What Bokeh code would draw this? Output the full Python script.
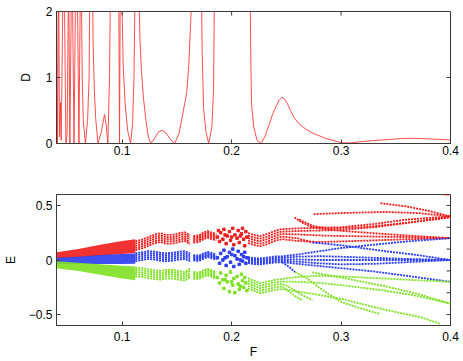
import math
from bokeh.plotting import figure
from bokeh.models import FixedTicker, Range1d
from bokeh.layouts import column
from bokeh.embed import file_html
from bokeh.resources import INLINE

# ---------------- top panel: D(F) ----------------
F_top = [0.0400, 0.0409, 0.0420, 0.0427, 0.0436, 0.0443, 0.0461, 0.0470, 0.0486, 0.0497,
         0.0511, 0.0522, 0.0538, 0.0544, 0.0560, 0.0576, 0.0589, 0.0605, 0.0619, 0.0626,
         0.0635, 0.0645, 0.0664, 0.0684, 0.0698, 0.0705, 0.0718, 0.0729, 0.0734, 0.0746,
         0.0758, 0.0779, 0.0809, 0.0839, 0.0854, 0.0869, 0.0885, 0.0894, 0.0932, 0.0968,
         0.0976, 0.0983, 0.0991, 0.1000, 0.1009, 0.1027, 0.1050, 0.1077, 0.1095, 0.1108,
         0.1120, 0.1137, 0.1154, 0.1162, 0.1176, 0.1194, 0.1217, 0.1239, 0.1260, 0.1293,
         0.1329, 0.1365, 0.1401, 0.1438, 0.1480, 0.1519, 0.1546, 0.1573, 0.1591, 0.1609,
         0.1630, 0.1641, 0.1679, 0.1722, 0.1731, 0.1744, 0.1765, 0.1790, 0.1819, 0.1835,
         0.1845, 0.2006, 0.2168, 0.2176, 0.2182, 0.2202, 0.2232, 0.2271, 0.2308, 0.2346,
         0.2376, 0.2406, 0.2435, 0.2460, 0.2484, 0.2511, 0.2538, 0.2572, 0.2620, 0.2677,
         0.2737, 0.2797, 0.2854, 0.2917, 0.3008, 0.3098, 0.3188, 0.3305, 0.3429, 0.3549,
         0.3639, 0.3729, 0.3865, 0.4000]
D_top = [2.6, 0.0, 2.6, 0.1, 0.62, 0.05, 2.6, 2.6, 0.0, 0.15,
         2.6, 0.0, 2.6, 2.6, 0.0, 2.6, 2.6, 0.0, 2.6, 2.6,
         1.0, 0.35, 0.0, 0.35, 1.0, 2.6, 3.0, 2.6, 1.55, 0.8,
         0.38, 0.0, 0.17, 0.44, 0.28, 0.0, 1.05, 2.6, 3.0, 2.6,
         0.0, 2.6, 3.0, 2.0, 1.2, 0.6, 0.2, 0.0, 0.3, 1.0,
         2.6, 3.0, 2.3, 1.6, 1.1, 0.7, 0.35, 0.1, 0.0, 0.07,
         0.17, 0.20, 0.16, 0.07, 0.0, 0.15, 0.38, 0.62, 0.79, 1.2,
         2.0, 2.8, 3.0, 2.6, 1.4, 0.53, 0.18, 0.0, 0.24, 0.8,
         2.6, 3.0, 2.6, 1.2, 0.6, 0.25, 0.05, 0.0, 0.12, 0.30,
         0.45, 0.56, 0.66, 0.70, 0.67, 0.60, 0.50, 0.39, 0.29, 0.22,
         0.16, 0.12, 0.08, 0.05, 0.01, 0.01, 0.03, 0.045, 0.06, 0.075,
         0.08, 0.075, 0.065, 0.055]

# ---------------- bottom panel: E(F) ----------------
band_F = [0.040, 0.060, 0.080, 0.100, 0.112]
red_lo = [0.012, 0.025, 0.040, 0.055, 0.065]
red_hi = [0.070, 0.100, 0.140, 0.175, 0.190]
blue_lo = [-0.035, -0.037, -0.037, -0.037, -0.035]
blue_hi = [0.020, 0.030, 0.045, 0.055, 0.060]
green_lo = [-0.075, -0.100, -0.135, -0.170, -0.185]
green_hi = [-0.012, -0.025, -0.040, -0.052, -0.060]

FA = [0.112, 0.118, 0.124, 0.130, 0.135, 0.140, 0.146, 0.152, 0.157, 0.162]
red_A = [
    [0.170, 0.185, 0.210, 0.235, 0.245, 0.230, 0.230, 0.245, 0.255, 0.225],
    [0.150, 0.165, 0.190, 0.215, 0.225, 0.210, 0.210, 0.225, 0.235, 0.205],
    [0.130, 0.145, 0.170, 0.195, 0.205, 0.190, 0.190, 0.205, 0.215, 0.185],
    [0.110, 0.125, 0.150, 0.175, 0.185, 0.170, 0.170, 0.185, 0.195, 0.165],
    [0.090, 0.105, 0.130, 0.155, 0.165, 0.150, 0.150, 0.165, 0.175, 0.145],
]
blue_A = [
    [0.061, 0.071, 0.081, 0.076, 0.066, 0.061, 0.066, 0.076, 0.081, 0.061],
    [0.043, 0.053, 0.063, 0.058, 0.048, 0.043, 0.048, 0.058, 0.063, 0.043],
    [0.025, 0.035, 0.045, 0.040, 0.030, 0.025, 0.030, 0.040, 0.045, 0.025],
    [0.007, 0.017, 0.027, 0.022, 0.012, 0.007, 0.012, 0.022, 0.027, 0.007],
    [-0.011, -0.001, 0.009, 0.004, -0.006, -0.011, -0.006, 0.004, 0.009, -0.011],
]
green_A = [
    [-0.070, -0.075, -0.085, -0.095, -0.100, -0.090, -0.090, -0.100, -0.110, -0.080],
    [-0.090, -0.095, -0.105, -0.115, -0.120, -0.110, -0.110, -0.120, -0.130, -0.100],
    [-0.110, -0.115, -0.125, -0.135, -0.140, -0.130, -0.130, -0.140, -0.150, -0.120],
    [-0.130, -0.135, -0.145, -0.155, -0.160, -0.150, -0.150, -0.160, -0.170, -0.140],
    [-0.150, -0.155, -0.165, -0.175, -0.180, -0.170, -0.170, -0.180, -0.190, -0.160],
]
FA2 = [0.165, 0.170, 0.174, 0.178, 0.182, 0.186]
red_A2 = [
    [0.220, 0.225, 0.250, 0.265, 0.250, 0.240],
    [0.205, 0.210, 0.235, 0.250, 0.235, 0.225],
    [0.190, 0.195, 0.220, 0.235, 0.220, 0.210],
    [0.175, 0.180, 0.205, 0.220, 0.205, 0.195],
    [0.160, 0.165, 0.190, 0.205, 0.190, 0.180],
]
blue_A2 = [
    [0.044, 0.039, 0.059, 0.074, 0.064, 0.049],
    [0.032, 0.027, 0.047, 0.062, 0.052, 0.037],
    [0.020, 0.015, 0.035, 0.050, 0.040, 0.025],
    [0.008, 0.003, 0.023, 0.038, 0.028, 0.013],
    [-0.004, -0.009, 0.011, 0.026, 0.016, 0.001],
]
green_A2 = [
    [-0.110, -0.115, -0.095, -0.080, -0.095, -0.110],
    [-0.125, -0.130, -0.110, -0.095, -0.110, -0.125],
    [-0.140, -0.145, -0.125, -0.110, -0.125, -0.140],
    [-0.155, -0.160, -0.140, -0.125, -0.140, -0.155],
    [-0.170, -0.175, -0.155, -0.140, -0.155, -0.170],
]

red_sF = [0.187, 0.189, 0.190, 0.192, 0.193, 0.195, 0.196, 0.198, 0.199, 0.201, 0.202, 0.203, 0.205,
          0.206, 0.207, 0.209, 0.210, 0.211, 0.212, 0.213, 0.214, 0.194, 0.200, 0.208, 0.188]
red_sE = [0.21, 0.17, 0.25, 0.19, 0.28, 0.15, 0.22, 0.26, 0.18, 0.29, 0.14, 0.23, 0.20,
          0.27, 0.16, 0.24, 0.29, 0.19, 0.13, 0.26, 0.21, 0.23, 0.21, 0.22, 0.27]
blue_sF = [0.187, 0.189, 0.190, 0.192, 0.193, 0.195, 0.196, 0.198, 0.199, 0.201, 0.202, 0.203,
           0.205, 0.206, 0.207, 0.209, 0.210, 0.211, 0.212, 0.213, 0.214, 0.194, 0.200, 0.208]
blue_sE = [0.02, -0.03, 0.06, 0.00, 0.09, -0.05, 0.03, 0.07, -0.02, 0.10, -0.06, 0.04,
           0.01, 0.08, -0.04, 0.05, -0.01, 0.03, 0.07, -0.03, 0.02, 0.02, 0.05, 0.00]
green_sF = [0.187, 0.189, 0.190, 0.192, 0.193, 0.195, 0.196, 0.198, 0.199, 0.201, 0.202, 0.203,
            0.205, 0.206, 0.207, 0.209, 0.210, 0.211, 0.212, 0.213, 0.214, 0.194, 0.200, 0.208]
green_sE = [-0.16, -0.21, -0.12, -0.18, -0.26, -0.14, -0.20, -0.29, -0.11, -0.23, -0.17, -0.30,
            -0.15, -0.22, -0.27, -0.13, -0.19, -0.25, -0.16, -0.21, -0.28, -0.18, -0.20, -0.24]

FB = [0.215, 0.220, 0.226, 0.232, 0.240, 0.246]
red_B = [
    (FB + [0.26, 0.28, 0.30, 0.33, 0.36, 0.40],
     [0.246, 0.231, 0.218, 0.236, 0.268, 0.283, 0.290, 0.295, 0.300, 0.330, 0.370, 0.400]),
    (FB + [0.26, 0.28, 0.30, 0.33, 0.36, 0.40],
     [0.223, 0.208, 0.195, 0.213, 0.245, 0.260, 0.265, 0.270, 0.275, 0.300, 0.340, 0.395]),
    (FB + [0.26, 0.28, 0.30, 0.33, 0.36, 0.40],
     [0.200, 0.185, 0.172, 0.190, 0.222, 0.237, 0.235, 0.225, 0.220, 0.215, 0.210, 0.200]),
    (FB + [0.26, 0.274],
     [0.177, 0.162, 0.149, 0.167, 0.199, 0.214, 0.200, 0.160]),
    (FB + [0.26, 0.28, 0.30, 0.33, 0.36, 0.40],
     [0.154, 0.139, 0.126, 0.144, 0.176, 0.191, 0.175, 0.165, 0.170, 0.180, 0.190, 0.200]),
    ([0.2574, 0.265, 0.2737, 0.29, 0.31, 0.33, 0.36, 0.40],
     [0.39, 0.34, 0.30, 0.275, 0.26, 0.245, 0.225, 0.200]),
    ([0.2615, 0.275, 0.29, 0.32, 0.36, 0.40],
     [0.37, 0.31, 0.29, 0.30, 0.34, 0.39]),
    ([0.275, 0.30, 0.34, 0.37, 0.40], [0.42, 0.43, 0.44, 0.43, 0.40]),
    ([0.336, 0.36, 0.38, 0.40], [0.52, 0.49, 0.45, 0.40]),
    ([0.394, 0.40], [0.598, 0.598]),
]
blue_B = [
    (FB + [0.26, 0.28, 0.30, 0.33, 0.36, 0.40],
     [0.027, 0.017, 0.014, 0.022, 0.032, 0.034, 0.05, 0.08, 0.11, 0.14, 0.17, 0.20]),
    (FB + [0.26, 0.28, 0.30, 0.33, 0.36, 0.40],
     [0.0135, 0.0035, 0.0005, 0.0085, 0.0185, 0.0205, 0.03, 0.035, 0.03, 0.02, 0.01, 0.0]),
    (FB + [0.26, 0.28, 0.30, 0.33, 0.36, 0.40],
     [0.000, -0.010, -0.013, -0.005, 0.005, 0.007, 0.005, 0.0, 0.0, 0.0, 0.0, 0.0]),
    (FB + [0.26, 0.28, 0.30, 0.33, 0.36, 0.40],
     [-0.0135, -0.0235, -0.0265, -0.0185, -0.0085, -0.0065, -0.015, -0.03, -0.04, -0.035, -0.02, 0.0]),
    (FB + [0.26, 0.28, 0.30, 0.33, 0.36, 0.40],
     [-0.027, -0.037, -0.040, -0.032, -0.022, -0.020, -0.035, -0.055, -0.075, -0.105, -0.145, -0.20]),
    ([0.274, 0.30, 0.337, 0.37, 0.40], [0.160, 0.135, 0.085, 0.045, 0.0]),
    ([0.246, 0.252, 0.258], [-0.02, -0.06, -0.11]),
]
green_B = [
    (FB + [0.26, 0.28, 0.30, 0.34, 0.40],
     [-0.169, -0.189, -0.212, -0.199, -0.182, -0.174, -0.155, -0.145, -0.150, -0.170, -0.200]),
    (FB + [0.26, 0.28, 0.30, 0.34, 0.37, 0.40],
     [-0.192, -0.212, -0.235, -0.222, -0.205, -0.197, -0.200, -0.210, -0.230, -0.280, -0.330, -0.400]),
    (FB + [0.252, 0.258, 0.264, 0.2737],
     [-0.215, -0.235, -0.258, -0.245, -0.228, -0.220, -0.245, -0.280, -0.320, -0.365]),
    (FB + [0.250, 0.255, 0.260, 0.265],
     [-0.238, -0.258, -0.281, -0.268, -0.251, -0.243, -0.27, -0.31, -0.345, -0.37]),
    (FB + [0.2737, 0.3008, 0.3369, 0.373, 0.391],
     [-0.261, -0.281, -0.304, -0.291, -0.274, -0.266, -0.31, -0.357, -0.448, -0.525, -0.586]),
    ([0.258, 0.2696, 0.285, 0.3008, 0.32, 0.3357], [-0.11, -0.174, -0.29, -0.387, -0.45, -0.494]),
    ([0.2737, 0.30, 0.34, 0.37, 0.40], [-0.113, -0.16, -0.24, -0.31, -0.40]),
]

# inner tick positions on the top / right frame edges
top_ticks_top = [0.1, 0.2, 0.3]
right_ticks_top = [1]
right_ticks_bottom = [-0.5, -0.3, -0.1, 0.1, 0.3, 0.5]

RED = "#f01c1c"
BLUE = "#2a3cf0"
GREEN = "#7ee022"
TOPLINE = "#ff3a3a"
AXC = "#3a3a3a"
FONT = "Liberation Sans"


def style(p):
    p.grid.visible = False
    p.outline_line_color = AXC
    p.outline_line_width = 1
    for ax in (p.xaxis[0], p.yaxis[0]):
        ax.major_tick_in = 4
        ax.major_tick_out = 0
        ax.minor_tick_line_color = None
        ax.axis_line_color = AXC
        ax.major_tick_line_color = AXC
        ax.major_label_text_font = FONT
        ax.major_label_text_font_size = "12px"
        ax.major_label_text_color = "#000000"
        ax.axis_label_text_font = FONT
        ax.axis_label_text_font_size = "12px"
        ax.axis_label_text_font_style = "normal"
        ax.axis_label_text_color = "#000000"
        ax.major_label_standoff = 4


# top figure
p1 = figure(width=463, height=163, x_range=Range1d(0.04, 0.4), y_range=Range1d(0, 2),
            output_backend="svg", toolbar_location=None,
            min_border_left=51, min_border_right=13, min_border_top=11, min_border_bottom=20)
p1.line(F_top, D_top, line_color=TOPLINE, line_width=0.9)
p1.ray(x=top_ticks_top, y=[2] * len(top_ticks_top), length=4, length_units="screen",
       angle=-math.pi / 2, line_color=AXC, line_width=1)
p1.ray(x=[0.4] * len(right_ticks_top), y=right_ticks_top, length=4, length_units="screen",
       angle=math.pi, line_color=AXC, line_width=1)
style(p1)
p1.xaxis.ticker = FixedTicker(ticks=[0.1, 0.2, 0.3, 0.4])
p1.xaxis.major_label_overrides = {0.1: "0.1", 0.2: "0.2", 0.3: "0.3", 0.4: "0.4"}
p1.xaxis.major_label_standoff = 2
p1.yaxis.ticker = FixedTicker(ticks=[0, 1, 2])
p1.yaxis.axis_label = "D"
p1.yaxis.axis_label_standoff = 10

# bottom figure
p2 = figure(width=463, height=198, x_range=Range1d(0.04, 0.4), y_range=Range1d(-0.6, 0.6),
            output_backend="svg", toolbar_location=None,
            min_border_left=51, min_border_right=13, min_border_top=31, min_border_bottom=35)

p2.varea(x=band_F, y1=red_lo, y2=red_hi, fill_color=RED, fill_alpha=0.9)
p2.varea(x=band_F, y1=blue_lo, y2=blue_hi, fill_color=BLUE, fill_alpha=0.9)
p2.varea(x=band_F, y1=green_lo, y2=green_hi, fill_color=GREEN, fill_alpha=0.9)

DASH = "2 1"
LW = 1.8
for color, groupA, groupA2 in ((RED, red_A, red_A2), (BLUE, blue_A, blue_A2), (GREEN, green_A, green_A2)):
    for ys in groupA:
        p2.line(FA, ys, line_color=color, line_width=LW, line_dash=DASH)
    for ys in groupA2:
        p2.line(FA2, ys, line_color=color, line_width=LW, line_dash=DASH)

for color, groupB in ((RED, red_B), (BLUE, blue_B), (GREEN, green_B)):
    for xs, ys in groupB:
        p2.line(xs, ys, line_color=color, line_width=LW, line_dash=DASH)

p2.scatter(red_sF, red_sE, marker="square", size=2.5, color=RED)
p2.scatter(blue_sF, blue_sE, marker="square", size=2.5, color=BLUE)
p2.scatter(green_sF, green_sE, marker="square", size=2.5, color=GREEN)

p2.ray(x=[0.4] * len(right_ticks_bottom), y=right_ticks_bottom, length=4, length_units="screen",
       angle=math.pi, line_color=AXC, line_width=1)

style(p2)
p2.xaxis.ticker = FixedTicker(ticks=[0.1, 0.2, 0.3, 0.4])
p2.xaxis.major_label_overrides = {0.1: "0.1", 0.2: "0.2", 0.3: "0.3", 0.4: "0.4"}
p2.xaxis.axis_label = "F"
p2.xaxis.axis_label_standoff = 1
p2.xaxis.major_label_standoff = 6
p2.yaxis.ticker = FixedTicker(ticks=[-0.5, 0, 0.5])
p2.yaxis.major_label_overrides = {-0.5: "\u22120.5", 0: "0", 0.5: "0.5"}
p2.yaxis.axis_label = "E"
p2.yaxis.axis_label_standoff = 8

layout = column(p1, p2)
open("out.html", "w").write(file_html(layout, INLINE))
